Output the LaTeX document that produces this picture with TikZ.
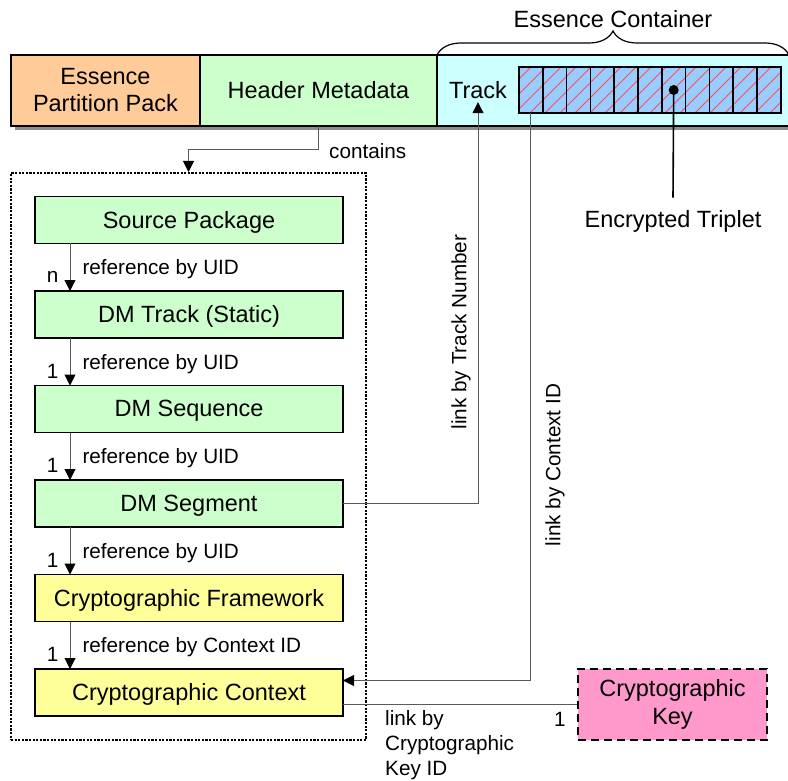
\documentclass[tikz,border=0pt]{standalone}
\usepackage{fontspec}
\setmainfont{Liberation Sans}
\usetikzlibrary{positioning,arrows.meta,decorations.pathreplacing}
\definecolor{mdgreen}{HTML}{CCFFCC}
\definecolor{cryellow}{HTML}{FFFF99}
\definecolor{keypink}{HTML}{FF99CC}
\definecolor{eppOrange}{HTML}{FFCC99}
\definecolor{ecCyan}{HTML}{CCFFFF}
\definecolor{cellBlue}{HTML}{99CCFF}

\begin{document}
\begin{tikzpicture}[x=1pt,y=-1pt,
    big/.style={font=\fontsize{23.5}{27.5}\selectfont},
    lbl/.style={font=\fontsize{20.7}{25}\selectfont,inner sep=0pt},
    box/.style={draw,line width=1.6pt,outer sep=0pt,inner sep=0pt,minimum width=308pt,minimum height=47pt,text depth=1pt,big},
    md/.style={box,fill=mdgreen},
    crypto/.style={box,fill=cryellow},
    bar/.style={box,minimum height=71pt,align=center},
    cell/.style={draw,line width=1.6pt,minimum width=23.8pt,minimum height=46pt,inner sep=0pt,outer sep=0pt},
    link/.style={draw=black!65,line width=1pt},
    ref/.style={link,-{Triangle[length=11pt,width=11pt,color=black]}},
    node distance=47.5pt]

    \useasboundingbox (0,0) rectangle (788,781);

    \fill[black!45] (15,59) rectangle (800,130);
    \node[bar,fill=eppOrange,minimum width=189pt,anchor=north west] (epp) at (11,55) {Essence\\Partition Pack};
    \node[bar,fill=mdgreen,minimum width=237pt,anchor=west] (hm) at (epp.east) {Header Metadata};
    \node[bar,fill=ecCyan,minimum width=363pt,anchor=west] (ec) at (hm.east) {};
    \node[big] (track) at (478,90) {Track};

    \fill[cellBlue] (519,67) rectangle (781,113);
    \begin{scope}
        \clip (519,67) rectangle (781,113);
        \foreach \k in {470,485,...,785}
            \draw[red!70!white,line width=0.9pt] (\k,113) -- (\k+46,67);
    \end{scope}
    \foreach \i in {0,...,10}
        \node[cell] (c\i) at (530.9+23.8*\i,90) {};
    \fill (c6.center) circle (5pt);

    \draw[decorate,decoration={brace,amplitude=24pt},line width=1.2pt] (437,55) -- (789,55);
    \node[big] (ectitle) at (613,19) {Essence Container};

    \node[big,outer sep=9pt] (et) at (673,221) {Encrypted Triplet};
    \draw[line width=1.6pt] (c6.center) -- (et.north);

    \node[draw,line width=2pt,dash pattern=on 2.2pt off 1.4pt,minimum width=355pt,minimum height=567pt,inner sep=0pt] (grp) at (188.5,456.5) {};

    \node[md] (sp) at (189,220) {Source Package};
    \node[md,below=of sp] (dmt) {DM Track (Static)};
    \node[md,below=of dmt] (dms) {DM Sequence};
    \node[md,below=of dms] (dmseg) {DM Segment};
    \node[crypto,below=of dmseg] (cf) {Cryptographic Framework};
    \node[crypto,below=of cf] (cc) {Cryptographic Context};

    \node[draw,line width=2.2pt,dash pattern=on 8pt off 5pt,fill=keypink,minimum width=189pt,minimum height=71pt,align=center,big] (key) at (672.5,704.5) {Cryptographic\\Key};

    \foreach \a/\b/\m/\t in {sp/dmt/n/reference by UID,dmt/dms/1/reference by UID,dms/dmseg/1/reference by UID,dmseg/cf/1/reference by UID,cf/cc/1/reference by Context ID}
        \draw[ref] ([xshift=35pt]\a.south west) -- ([xshift=35pt]\b.north west)
            node[lbl,pos=0.55,right=12pt] {\t}
            node[lbl,pos=0.7,left=11pt] {\m};

    \draw[ref] (hm.south) -- ++(0,24) -| (grp.north);
    \node[lbl,anchor=west] (contains) at (329,151) {contains};

    \draw[ref] (dmseg.east) -| (track.south);
    \node[lbl,rotate=90] (tnlbl) at (461,332) {link by Track Number};

    \draw[ref] (c0.south) |- ([yshift=12pt]cc.east);
    \node[lbl,rotate=90] (cidlbl) at (555,465) {link by Context ID};

    \draw[link] (key.west) -- (key.west -| cc.east);
    \node[lbl,align=left,anchor=north west] (kidlbl) at (385,710) {link by\\Cryptographic\\Key ID};
    \node[lbl] (one) at (560,719) {1};
\end{tikzpicture}
\end{document}
